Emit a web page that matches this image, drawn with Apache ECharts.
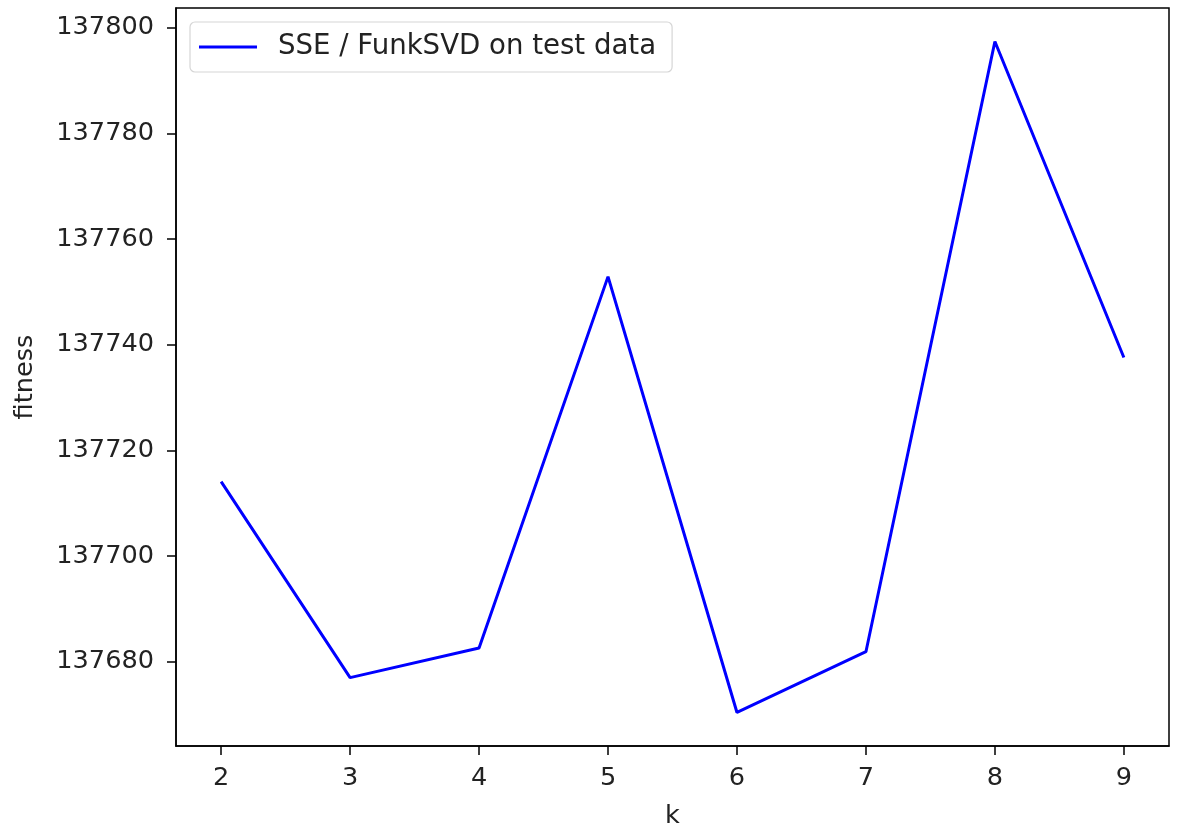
<!DOCTYPE html>
<html><head><meta charset="utf-8">
<script src="https://cdn.jsdelivr.net/npm/echarts@6/dist/echarts.min.js"></script>
<style>html,body{margin:0;padding:0;background:#fff}#c{width:1178px;height:829px}</style>
</head><body><div id="c"></div>
<script>
const kValues = [2, 3, 4, 5, 6, 7, 8, 9];
const fitness = [137714.1, 137677.0, 137682.6, 137752.9, 137670.4, 137681.9, 137797.4, 137737.6];
const xTicks = [2, 3, 4, 5, 6, 7, 8, 9];
const yTicks = [137680, 137700, 137720, 137740, 137760, 137780, 137800];
const seriesName = 'SSE / FunkSVD on test data';

const font = 'DejaVu Sans';
const fs = 25.6;
const chart = echarts.init(document.getElementById('c'));
chart.setOption({
  animation: false,
  grid: {left: 176, right: 9, top: 8, bottom: 83, show: true, borderColor: '#000', borderWidth: 1.5,
    containLabel: false, outerBoundsMode: 'none'},
  legend: {
    left: 190, top: 22, data: [seriesName], icon: 'rect', itemWidth: 58, itemHeight: 3,
    padding: [10, 16, 10, 9], borderColor: '#d6d6d6', borderWidth: 1.2, borderRadius: 5,
    backgroundColor: 'rgba(255,255,255,0.8)',
    textStyle: {fontFamily: font, fontSize: 27.6, color: '#222', lineHeight: 30, padding: [0, 0, 0, 16]}
  },
  xAxis: {
    type: 'value', min: 1.65, max: 9.35,
    name: 'k', nameLocation: 'middle', nameGap: 57,
    nameTextStyle: {fontFamily: font, fontSize: fs, color: '#222'},
    axisLine: {show: true, onZero: false, lineStyle: {color: '#000', width: 1.5}},
    axisTick: {show: true, inside: false, customValues: xTicks, length: 9, lineStyle: {color: '#000', width: 1.5}},
    axisLabel: {customValues: xTicks, fontFamily: font, fontSize: fs, color: '#222', margin: 19},
    splitLine: {show: false}
  },
  yAxis: {
    type: 'value', min: 137664.05, max: 137803.75,
    name: 'fitness', nameLocation: 'middle', nameGap: 138, nameRotate: 90,
    nameTextStyle: {fontFamily: font, fontSize: fs, color: '#222'},
    axisLine: {show: true, onZero: false, lineStyle: {color: '#000', width: 1.5}},
    axisTick: {show: true, inside: false, customValues: yTicks, length: 9, lineStyle: {color: '#000', width: 1.5}},
    axisLabel: {customValues: yTicks, fontFamily: font, fontSize: fs, color: '#222', margin: 22,
      formatter: v => String(v)},
    splitLine: {show: false}
  },
  series: [{
    name: seriesName, type: 'line', data: kValues.map((k, i) => [k, fitness[i]]),
    showSymbol: false, symbol: 'none', lineStyle: {color: '#0000ff', width: 3}, itemStyle: {color: '#0000ff'}
  }]
});
</script></body></html>
